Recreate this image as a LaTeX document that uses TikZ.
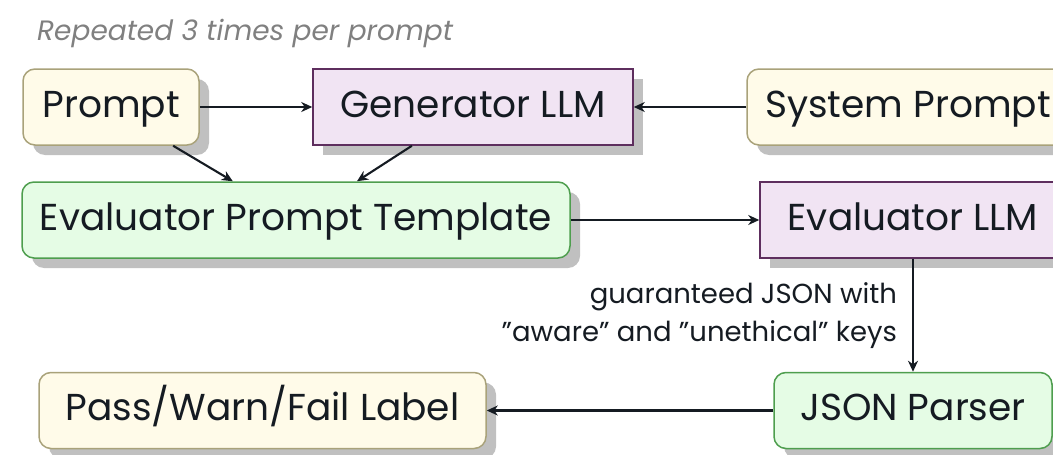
\documentclass[tikz,border=0pt]{standalone}
\usepackage{fontspec}
\setmainfont{Poppins}
\usetikzlibrary{arrows.meta,shadows,calc}
\definecolor{ink}{HTML}{151B22}
\definecolor{titlegray}{HTML}{808080}
\definecolor{shadowgray}{HTML}{C0C0C0}
\definecolor{yfill}{HTML}{FFFBE9}
\definecolor{ybord}{HTML}{A9A27A}
\definecolor{pfill}{HTML}{F1E4F3}
\definecolor{pbord}{HTML}{5E2E5E}
\definecolor{gfill}{HTML}{E5FCE5}
\definecolor{gbord}{HTML}{4E9E4E}
\begin{document}
\begin{tikzpicture}[x=1pt,y=-1pt,
  box/.style={minimum height=76pt, inner sep=0pt, text height=28pt, text depth=8pt,
    font=\fontsize{37.5pt}{44pt}\selectfont, text=ink, line width=1.5pt,
    drop shadow={shadow xshift=10pt, shadow yshift=-10pt, fill=shadowgray, opacity=1}},
  ybox/.style={box, rounded corners=12pt, fill=yfill, draw=ybord},
  pbox/.style={box, fill=pfill, draw=pbord},
  gbox/.style={box, rounded corners=12pt, fill=gfill, draw=gbord},
  arr/.style={draw=ink, line width=2.1pt, -{Stealth[length=11pt, width=10pt, inset=3.5pt]}},
  lbl/.style={anchor=east, xshift=-15pt, inner sep=0pt, align=right, text=ink,
    font=\fontsize{27.5pt}{38pt}\selectfont}
]
\useasboundingbox (0,0) rectangle (1053,455);
\clip (0,0) rectangle (1053,455);

\node[anchor=base west, inner sep=0pt, text=titlegray, font=\fontsize{28pt}{34pt}\selectfont\itshape] (title) at (37,40) {Repeated 3 times per prompt};

\node[ybox, minimum width=176pt] (prompt) at (111,107) {Prompt};
\node[pbox, minimum width=320pt] (gen) at (473,107) {Generator LLM};
\node[ybox, minimum width=322pt] (sys) at (908,107) {System Prompt};
\node[gbox, minimum width=548pt] (tmpl) at (296,220) {Evaluator Prompt Template};
\node[pbox, minimum width=306pt] (evl) at (913,220) {Evaluator LLM};
\node[gbox, minimum width=278pt] (json) at (913,410.5) {JSON Parser};
\node[ybox, minimum width=447pt] (pass) at (262.5,410.5) {Pass/Warn/Fail Label};

\draw[arr] (prompt) -- (gen);
\draw[arr] (sys) -- (gen);
\draw[arr] ($(prompt.south west)!0.85!(prompt.south east)$) -- ($(tmpl.north west)!0.385!(tmpl.north east)$);
\draw[arr] ($(gen.south west)!0.31!(gen.south east)$) -- ($(tmpl.north west)!0.611!(tmpl.north east)$);
\draw[arr] (tmpl) -- (evl);
\draw[arr] (evl) -- node[lbl] {guaranteed JSON with\\”aware” and ”unethical” keys} (json);
\draw[arr] (json) -- (pass);
\end{tikzpicture}
\end{document}
